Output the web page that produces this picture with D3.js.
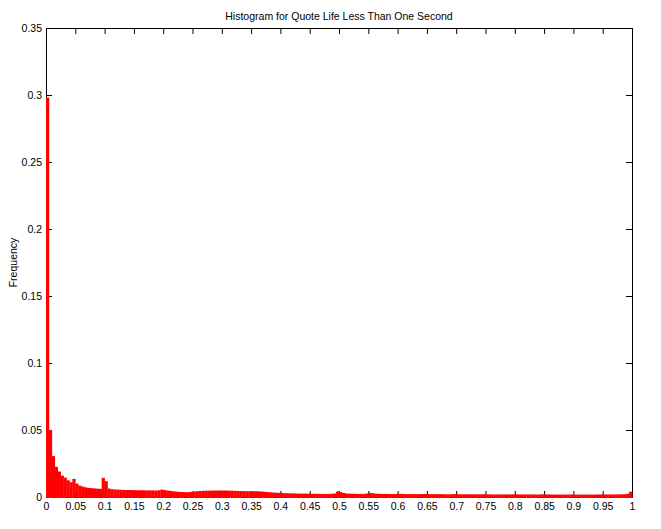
<!DOCTYPE html>
<html>
<head>
<meta charset="utf-8">
<script src="https://cdn.jsdelivr.net/npm/d3@7"></script>
<style>
  html, body { margin: 0; padding: 0; background: #fff; }
  svg text { font-family: "Liberation Sans", Arial, Helvetica, sans-serif; fill: #000; }
</style>
</head>
<body>
<svg id="chart" width="661" height="529"></svg>
<script>
// ---- data ----
const title = "Histogram for Quote Life Less Than One Second";
const yLabel = "Frequency";
const binWidth = 0.005;
const binStarts = d3.range(200).map(i => +(i * binWidth).toFixed(3));
const frequency = [
  0.298, 0.0500, 0.0305, 0.0225, 0.0190, 0.0160, 0.0145, 0.0125, 0.0110, 0.0135,
  0.0100, 0.0085, 0.0078, 0.0072, 0.0068, 0.0066, 0.0064, 0.0062, 0.0061, 0.0143,
  0.0118, 0.0063, 0.0058, 0.0056, 0.0055, 0.0054, 0.0053, 0.0052, 0.0052, 0.0051,
  0.0051, 0.0050, 0.0050, 0.0050, 0.0049, 0.0049, 0.0049, 0.0048, 0.0050, 0.0055,
  0.0052, 0.0048, 0.0045, 0.0042, 0.0040, 0.0038, 0.0037, 0.0036, 0.0036, 0.0038,
  0.0040, 0.0043, 0.0045, 0.0046, 0.0047, 0.0047, 0.0048, 0.0048, 0.0048, 0.0049,
  0.0048, 0.0048, 0.0047, 0.0047, 0.0046, 0.0045, 0.0044, 0.0044, 0.0043, 0.0043,
  0.0043, 0.0043, 0.0042, 0.0041, 0.0039, 0.0037, 0.0035, 0.0033, 0.0032, 0.0031,
  0.0030, 0.0029, 0.0028, 0.0027, 0.0027, 0.0026, 0.0025, 0.0025, 0.0025, 0.0024,
  0.0024, 0.0024, 0.0024, 0.0023, 0.0023, 0.0023, 0.0023, 0.0024, 0.0026, 0.0041,
  0.0037, 0.0030, 0.0026, 0.0025, 0.0024, 0.0024, 0.0023, 0.0023, 0.0023, 0.0026,
  0.0031, 0.0029, 0.0025, 0.0024, 0.0023, 0.0023, 0.0023, 0.0022, 0.0022, 0.0023,
  0.0024, 0.0023, 0.0022, 0.0022, 0.0022, 0.0022, 0.0021, 0.0021, 0.0022, 0.0023,
  0.0022, 0.0021, 0.0021, 0.0021, 0.0021, 0.0021, 0.0020, 0.0020, 0.0021, 0.0022,
  0.0021, 0.0020, 0.0020, 0.0020, 0.0020, 0.0020, 0.0020, 0.0020, 0.0020, 0.0021,
  0.0020, 0.0020, 0.0019, 0.0019, 0.0019, 0.0019, 0.0019, 0.0019, 0.0019, 0.0020,
  0.0020, 0.0019, 0.0019, 0.0019, 0.0019, 0.0019, 0.0019, 0.0018, 0.0019, 0.0020,
  0.0019, 0.0019, 0.0018, 0.0018, 0.0018, 0.0018, 0.0018, 0.0018, 0.0018, 0.0019,
  0.0018, 0.0018, 0.0018, 0.0018, 0.0018, 0.0018, 0.0018, 0.0018, 0.0019, 0.0019,
  0.0019, 0.0019, 0.0019, 0.0019, 0.0019, 0.0020, 0.0020, 0.0021, 0.0024, 0.0040
];
const xTicks = [0, 0.05, 0.1, 0.15, 0.2, 0.25, 0.3, 0.35, 0.4, 0.45, 0.5, 0.55, 0.6, 0.65, 0.7, 0.75, 0.8, 0.85, 0.9, 0.95, 1];
const yTicks = [0, 0.05, 0.1, 0.15, 0.2, 0.25, 0.3, 0.35];

// ---- layout ----
const svg = d3.select("#chart");
const L = 46, R = 632, T = 28, B = 497;
const x = d3.scaleLinear().domain([0, 1]).range([L, R]);
const y = d3.scaleLinear().domain([0, 0.35]).range([B, T]);
const fmt = d => String(d);
const tickLen = 6;

// frame background
svg.append("rect").attr("x", L).attr("y", T).attr("width", R - L).attr("height", B - T)
  .attr("fill", "#fff");

// bottom axis
const gx = svg.append("g").attr("transform", `translate(0,${B})`)
  .call(d3.axisBottom(x).tickValues(xTicks).tickFormat(fmt).tickSizeInner(-tickLen).tickSizeOuter(0).tickPadding(10));
// top axis (ticks only)
const gxt = svg.append("g").attr("transform", `translate(0,${T})`)
  .call(d3.axisTop(x).tickValues(xTicks).tickFormat("").tickSizeInner(-tickLen).tickSizeOuter(0));
// left axis
const gy = svg.append("g").attr("transform", `translate(${L},0)`)
  .call(d3.axisLeft(y).tickValues(yTicks).tickFormat(fmt).tickSizeInner(-tickLen).tickSizeOuter(0).tickPadding(4));
// right axis (ticks only)
const gyr = svg.append("g").attr("transform", `translate(${R},0)`)
  .call(d3.axisRight(y).tickValues(yTicks).tickFormat("").tickSizeInner(-tickLen).tickSizeOuter(0));

[gx, gxt, gy, gyr].forEach(g => {
  g.select(".domain").attr("stroke", "#000").attr("stroke-width", 1);
  g.selectAll(".tick line").attr("stroke", "#000");
  g.selectAll("text").style("font-size", "10.5px").attr("fill", "#000");
});
gx.selectAll("text").attr("dy", "0.3em");

// bars
svg.append("g").selectAll("rect").data(frequency).join("rect")
  .attr("x", (d, i) => x(binStarts[i]))
  .attr("width", (d, i) => x(binStarts[i] + binWidth) - x(binStarts[i]) + 0.3)
  .attr("y", d => y(d))
  .attr("height", d => B - y(d) + 1)
  .attr("fill", "#ff0000");

// title
svg.append("text").attr("x", (L + R) / 2).attr("y", 20).attr("text-anchor", "middle")
  .style("font-size", "10.5px").text(title);

// y label
svg.append("text").attr("transform", `translate(17,${(T + B) / 2}) rotate(-90)`)
  .attr("text-anchor", "middle").style("font-size", "10.5px").text(yLabel);
</script>
</body>
</html>
